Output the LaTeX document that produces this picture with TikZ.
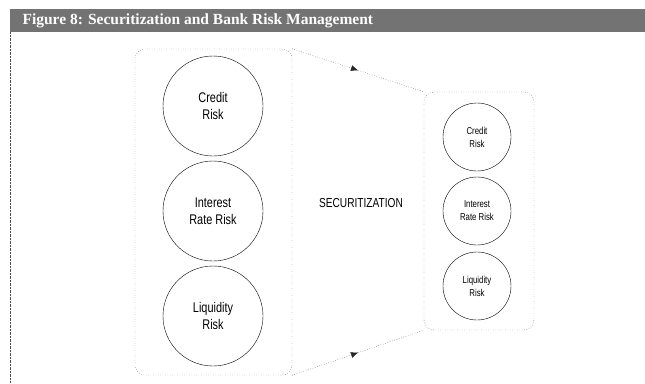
\documentclass[tikz,border=0pt]{standalone}
\usepackage{fontspec}
\setmainfont{Liberation Serif}
\newfontfamily\condfont{Liberation Sans}[FakeStretch=0.78]
\usetikzlibrary{arrows.meta,decorations.markings}

\tikzset{
  bigrisk/.style={draw, circle, minimum size=100pt, inner sep=0pt, align=center,
    font=\condfont\fontsize{14}{17.5}\selectfont},
  smallrisk/.style={draw, circle, minimum size=68pt, inner sep=0pt, align=center,
    font=\condfont\fontsize{10}{13}\selectfont},
  riskbox/.style={draw=black!85, dotted, rounded corners=10pt, inner sep=0pt},
  midarrow/.style={draw=black!85, dotted, postaction={decorate},
    decoration={markings, mark=at position 0.5 with {\arrow[solid]{Latex[length=7pt,width=6pt]}}}}
}

\begin{document}
\begin{tikzpicture}[x=1pt, y=-1pt]

    \useasboundingbox (0,0) rectangle (645,383);

    % title bar
    \fill[black!55] (10,9) rectangle (645,32);
    \draw[black!70, densely dotted] (10,32) -- (10,383);
    \node[anchor=west, text=white, font=\bfseries\fontsize{15.5}{18}\selectfont] (title) at (19,20.5)
        {Figure 8: Securitization and Bank Risk Management};

    \node[riskbox, minimum width=157pt, minimum height=326pt] (lbox) at (213.5, 212) {};
    \node[riskbox, minimum width=110pt, minimum height=238pt] (rbox) at (479, 211) {};

    \node[bigrisk] (a) at (213, 106) {Credit\\Risk};
    \node[bigrisk] (b) at (213, 211) {Interest\\Rate Risk};
    \node[bigrisk] (c) at (213, 316) {Liquidity\\Risk};

    \node[smallrisk] (d) at (477, 137) {Credit\\Risk};
    \node[smallrisk] (e) at (477, 211) {Interest\\Rate Risk};
    \node[smallrisk] (f) at (477, 286) {Liquidity\\Risk};

    \node[font=\condfont\fontsize{13}{15}\selectfont] (s) at (361, 203) {SECURITIZATION};

    \path[midarrow] (lbox.north east) to (rbox.north west);
    \path[midarrow] (lbox.south east) to (rbox.south west);

\end{tikzpicture}
\end{document}
